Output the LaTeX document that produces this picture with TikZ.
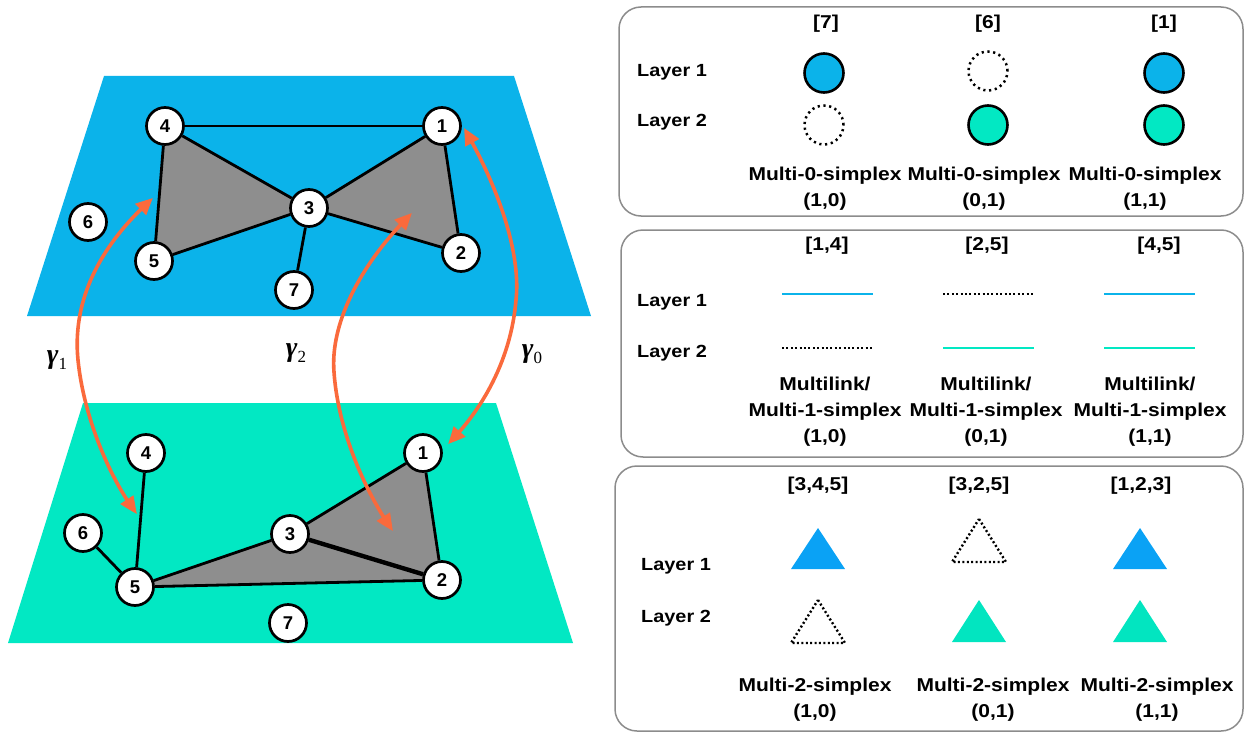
\documentclass[tikz,border=0pt]{standalone}
\usepackage{amsmath}
\usepackage{fontspec}
\setmainfont{Liberation Sans}
\newfontfamily\lbf{Liberation Sans}[FakeStretch=1.13]
\newfontfamily\tms{Liberation Serif}
\usetikzlibrary{arrows.meta,bending}
\definecolor{planeblue}{HTML}{0BB3EA}
\definecolor{planegreen}{HTML}{02E8C3}
\definecolor{simgray}{HTML}{8E8E8E}
\definecolor{arroworange}{HTML}{FA6A3C}
\definecolor{triblue}{HTML}{0AA2F5}
\definecolor{trigreen}{HTML}{02E5C0}
\definecolor{boxgray}{HTML}{8C8C8C}
\pgfdeclarelayer{planelayer}
\pgfdeclarelayer{filllayer}
\pgfsetlayers{planelayer,filllayer,main}
\newcommand{\gsub}[1]{\raisebox{-6pt}{\fontsize{17}{17}\selectfont\tms\upshape\mdseries #1}}
\begin{document}
\begin{tikzpicture}[x=1pt,y=-1pt,
  vtx/.style={circle,draw=black,fill=white,line width=2.7pt,minimum size=37pt,inner sep=0pt,font=\fontsize{18.5}{18.5}\selectfont\bfseries},
  edge/.style={line width=2.8pt,draw=black},
  thickedge/.style={line width=4.4pt,draw=black},
  garrow/.style={draw=arroworange,line width=3.6pt,{Triangle[length=17pt,width=15pt,bend]}-{Triangle[length=17pt,width=15pt,bend]}},
  gam/.style={font=\fontsize{28}{30}\selectfont\tms\itshape,inner sep=0pt},
  panel/.style={draw=boxgray,line width=1.5pt,rounded corners=22pt},
  lab/.style={font=\fontsize{18.6}{26}\selectfont\lbf\bfseries,align=center,inner sep=0pt},
  laylab/.style={font=\fontsize{17.6}{20}\selectfont\lbf\bfseries,inner sep=0pt,anchor=base west},
  dotline/.style={line width=2.4pt,dash pattern=on 2pt off 2.4pt},
  fullc/.style={circle,draw=black,line width=2.6pt,minimum size=39pt,inner sep=0pt},
  dotc/.style={circle,draw=black,line width=2.5pt,dash pattern=on 2.2pt off 3.6pt,minimum size=39pt,inner sep=0pt},
  simline/.style={line width=2.5pt}
]
\useasboundingbox (0,0) rectangle (1247,733);

% ---------- top layer ----------
\node[vtx] (t1) at (442,126) {1};
\node[vtx] (t2) at (461,253) {2};
\node[vtx] (t3) at (309,208) {3};
\node[vtx] (t4) at (165,126) {4};
\node[vtx] (t5) at (154,261) {5};
\node[vtx] (t6) at (88,222) {6};
\node[vtx] (t7) at (294,290) {7};

% ---------- bottom layer ----------
\node[vtx] (b1) at (423,453) {1};
\node[vtx] (b2) at (442,580) {2};
\node[vtx] (b3) at (290,534) {3};
\node[vtx] (b4) at (146,453) {4};
\node[vtx] (b5) at (135,587) {5};
\node[vtx] (b6) at (83,533) {6};
\node[vtx] (b7) at (288,623) {7};

\begin{pgfonlayer}{planelayer}
  \fill[planeblue] (104,76) -- (514,76) -- (591,316) -- (27,316) -- cycle;
  \fill[planegreen] (83,403) -- (496,403) -- (573,643) -- (8,643) -- cycle;
\end{pgfonlayer}

\begin{pgfonlayer}{filllayer}
  \fill[simgray] (t3.center) -- (t4.center) -- (t5.center) -- cycle;
  \fill[simgray] (t1.center) -- (t2.center) -- (t3.center) -- cycle;
  \fill[simgray] (b1.center) -- (b2.center) -- (b3.center) -- cycle;
  \fill[simgray] (b3.center) -- (b2.center) -- (b5.center) -- cycle;
\end{pgfonlayer}

% top edges
\draw[edge] (t4) -- (t1);
\draw[edge] (t4) -- (t3);
\draw[edge] (t4) -- (t5);
\draw[edge] (t5) -- (t3);
\draw[edge] (t3) -- (t1);
\draw[edge] (t3) -- (t2);
\draw[edge] (t1) -- (t2);
\draw[edge] (t3) -- (t7);
% bottom edges
\draw[edge] (b4) -- (b5);
\draw[edge] (b6) -- (b5);
\draw[edge] (b5) -- (b3);
\draw[edge] (b5) -- (b2);
\draw[edge] (b3) -- (b1);
\draw[edge] (b1) -- (b2);
\draw[thickedge] (b3) -- (b2);

% ---------- inter-layer arrows ----------
\coordinate (g1t) at (153,198);
\coordinate (g1b) at (137,514);
\coordinate (g2t) at (412,213);
\coordinate (g2b) at (393,531);
\coordinate (g0t) at (464,128);
\coordinate (g0b) at (448,444);
\draw[garrow] (g1t) .. controls (100,245) and (72,300) .. (78,360) .. controls (84,420) and (112,482) .. (g1b);
\draw[garrow] (g2t) .. controls (362,262) and (330,322) .. (334,372) .. controls (338,430) and (365,492) .. (g2b);
\draw[garrow] (g0t) .. controls (500,190) and (521,255) .. (516,300) .. controls (511,360) and (482,410) .. (g0b);

\node[gam] (lg1) at (57,360) {{\bfseries γ}\gsub{1}};
\node[gam] (lg2) at (296,353) {{\bfseries γ}\gsub{2}};
\node[gam] (lg0) at (532,354) {{\bfseries γ}\gsub{0}};

% ---------- right panels ----------
\draw[panel] (619,7) rectangle (1243,216);
\draw[panel] (621,230) rectangle (1243,457);
\draw[panel] (615,466) rectangle (1243,731);

% box 1
\node[lab] (h11) at (826,24) {[7]};
\node[lab] (h12) at (988,24) {[6]};
\node[lab] (h13) at (1164,24) {[1]};
\node[laylab] (l11) at (637,77) {Layer 1};
\node[laylab] (l12) at (637,127) {Layer 2};
\node[fullc,fill=planeblue] (c11) at (824,73) {};
\node[dotc] (c12) at (824,125) {};
\node[dotc] (c21) at (988,71) {};
\node[fullc,fill=planegreen] (c22) at (988,125) {};
\node[fullc,fill=planeblue] (c31) at (1164,73) {};
\node[fullc,fill=planegreen] (c32) at (1164,125) {};
\node[lab] (m11) at (825,189) {Multi-0-simplex\\(1,0)};
\node[lab] (m12) at (984,189) {Multi-0-simplex\\(0,1)};
\node[lab] (m13) at (1145,189) {Multi-0-simplex\\(1,1)};

% box 2
\node[lab] (h21) at (827,246) {[1,4]};
\node[lab] (h22) at (987,246) {[2,5]};
\node[lab] (h23) at (1159,246) {[4,5]};
\node[laylab] (l21) at (637,306) {Layer 1};
\node[laylab] (l22) at (637,357) {Layer 2};
\coordinate (s11a) at (782,294); \coordinate (s11b) at (873,294);
\coordinate (s21a) at (943,294); \coordinate (s21b) at (1034,294);
\coordinate (s31a) at (1104,294); \coordinate (s31b) at (1195,294);
\coordinate (s12a) at (782,348); \coordinate (s12b) at (873,348);
\coordinate (s22a) at (943,348); \coordinate (s22b) at (1034,348);
\coordinate (s32a) at (1104,348); \coordinate (s32b) at (1195,348);
\draw[simline,draw=planeblue] (s11a) -- (s11b);
\draw[dotline] (s21a) -- (s21b);
\draw[simline,draw=planeblue] (s31a) -- (s31b);
\draw[dotline] (s12a) -- (s12b);
\draw[simline,draw=planegreen] (s22a) -- (s22b);
\draw[simline,draw=planegreen] (s32a) -- (s32b);
\node[lab] (m21) at (825,412) {Multilink/\\Multi-1-simplex\\(1,0)};
\node[lab] (m22) at (986,412) {Multilink/\\Multi-1-simplex\\(0,1)};
\node[lab] (m23) at (1150,412) {Multilink/\\Multi-1-simplex\\(1,1)};

% box 3
\node[lab] (h31) at (818,486) {[3,4,5]};
\node[lab] (h32) at (979,486) {[3,2,5]};
\node[lab] (h33) at (1141,486) {[1,2,3]};
\node[laylab] (l31) at (641,570) {Layer 1};
\node[laylab] (l32) at (641,622) {Layer 2};
\fill[triblue] (818,528) -- (845,569) -- (791,569) -- cycle;
\draw[dotline] (979,519) -- (1006,562) -- (952,562) -- cycle;
\fill[triblue] (1140,528) -- (1167,569) -- (1113,569) -- cycle;
\draw[dotline] (818,600) -- (845,643) -- (791,643) -- cycle;
\fill[trigreen] (979,600) -- (1006,642) -- (952,642) -- cycle;
\fill[trigreen] (1140,600) -- (1167,642) -- (1113,642) -- cycle;
\node[lab] (m31) at (815,700) {Multi-2-simplex\\(1,0)};
\node[lab] (m32) at (993,700) {Multi-2-simplex\\(0,1)};
\node[lab] (m33) at (1157,700) {Multi-2-simplex\\(1,1)};
\end{tikzpicture}
\end{document}
